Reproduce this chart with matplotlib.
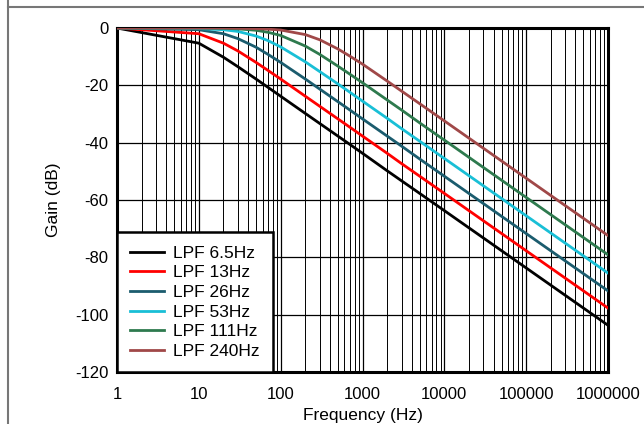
import matplotlib
matplotlib.use("Agg")
import matplotlib.pyplot as plt
from matplotlib.lines import Line2D
from matplotlib.ticker import FixedLocator, LogLocator, NullFormatter

plt.rcParams['font.family'] = ['Liberation Sans', 'DejaVu Sans']

# frequency points (Hz)
freq = [1, 10, 20, 30, 50, 70, 100, 200, 300, 500, 700, 1000,
        2000, 3000, 5000, 10000, 100000, 1000000]

# gain (dB)
lpf_6_5 = [0.0, -5.3, -10.2, -13.5, -17.8, -20.7, -23.8, -29.8, -33.3, -37.7, -40.6, -43.7,
           -49.8, -53.3, -57.7, -63.7, -83.7, -103.7]
lpf_13 = [0.0, -2.0, -5.3, -8.0, -12.0, -14.8, -17.8, -23.8, -27.3, -31.7, -34.6, -37.7,
          -43.7, -47.3, -51.7, -57.7, -77.7, -97.7]
lpf_26 = [0.0, -0.6, -2.0, -3.7, -6.7, -9.2, -12.0, -17.8, -21.3, -25.7, -28.6, -31.7,
          -37.7, -41.2, -45.7, -51.7, -71.7, -91.7]
lpf_53 = [0.0, -0.2, -0.6, -1.2, -2.8, -4.4, -6.6, -11.8, -15.2, -19.5, -22.4, -25.5,
          -31.5, -35.1, -39.5, -45.5, -65.5, -85.5]
lpf_111 = [0.0, 0.0, -0.1, -0.3, -0.8, -1.5, -2.6, -6.3, -9.2, -13.3, -16.1, -19.1,
           -25.1, -28.6, -33.1, -39.1, -59.1, -79.1]
lpf_240 = [0.0, 0.0, 0.0, -0.1, -0.2, -0.4, -0.7, -2.3, -4.1, -7.3, -9.8, -12.6,
           -18.5, -22.0, -26.4, -32.4, -52.4, -72.4]

series = [lpf_6_5, lpf_13, lpf_26, lpf_53, lpf_111, lpf_240]
labels = ['LPF 6.5Hz', 'LPF 13Hz', 'LPF 26Hz', 'LPF 53Hz', 'LPF 111Hz', 'LPF 240Hz']
colors = ['#000000', '#ff0000', '#1b5c6e', '#19bfd6', '#2e7a4e', '#a04848']

xticks = [1, 10, 100, 1000, 10000, 100000, 1000000]
yticks = [0, -20, -40, -60, -80, -100, -120]

fig = plt.figure(figsize=(6.44, 4.24), dpi=100)
ax = fig.add_axes([117/644, 52/424, 491/644, 344/424])

for g, lab, c in zip(series, labels, colors):
    ax.plot(freq, g, color=c, lw=2.0, label=lab, zorder=3)

ax.set_xscale('log')
ax.set_xlim(1, 1e6)
ax.set_ylim(-120, 0)
ax.xaxis.set_major_locator(FixedLocator(xticks))
ax.set_xticklabels([str(t) for t in xticks])
ax.xaxis.set_minor_locator(LogLocator(base=10, subs=range(2, 10), numticks=20))
ax.xaxis.set_minor_formatter(NullFormatter())
ax.set_yticks(yticks)
ax.set_yticklabels([str(t) for t in yticks])
ax.tick_params(which='both', length=0, labelsize=12)
ax.tick_params(axis='x', pad=11)
ax.tick_params(axis='y', pad=6)

ax.grid(which='major', axis='both', color='black', lw=0.9)
ax.grid(which='minor', axis='x', color='black', lw=0.7)
ax.set_axisbelow(True)
for s in ax.spines.values():
    s.set_linewidth(2.2)

ax.set_xlabel('Frequency (Hz)', fontsize=12.5, labelpad=4)
ax.set_ylabel('Gain (dB)', fontsize=12.5, labelpad=10)

leg = ax.legend(loc='lower left', borderaxespad=0, fontsize=12.5, fancybox=False,
                framealpha=1, edgecolor='black', handlelength=1.95, labelspacing=0.26,
                borderpad=0.75, handletextpad=0.55)
leg.get_frame().set_linewidth(1.8)
leg.set_zorder(5)

# outer cell border
fig.add_artist(Line2D([8/644, 8/644], [0, 1], color='#777777', lw=1.5))
fig.add_artist(Line2D([8/644, 1], [1 - 7/424, 1 - 7/424], color='#777777', lw=1.5))

fig.savefig('out.png', dpi=100)
